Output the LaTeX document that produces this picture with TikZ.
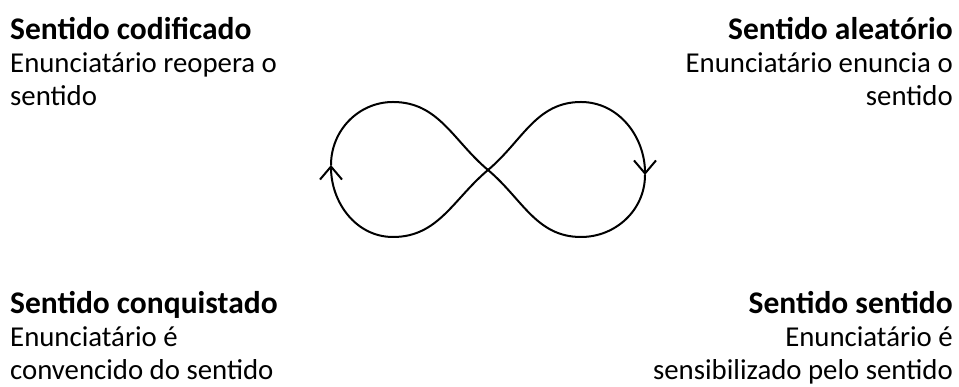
\documentclass[tikz,border=0pt]{standalone}
\usepackage{fontspec}
\setmainfont{Carlito}
\usetikzlibrary{arrows.meta,positioning}
\newcommand{\sentttl}[1]{{\fontsize{31.5}{33}\selectfont\bfseries #1}}
\tikzset{>={Straight Barb[length=13pt,width=22pt]},
  sentbox/.style={inner sep=0pt,font=\fontsize{28.8}{33}\selectfont},
  sentl/.style={sentbox,align=left,anchor=base west},
  sentr/.style={sentbox,align=right,anchor=base east},
  eight/.style={line width=2pt,black,line cap=round}}
\begin{document}
\begin{tikzpicture}[x=1pt,y=1pt]
  \useasboundingbox (0,0) rectangle (959,387);
  % four kinds of sense (anchored on their last line)
  \node[sentl] (codif) at (10,281) {\sentttl{Sentido codificado}\\Enunciatário reopera o\\sentido};
  \node[sentr] (aleat) at (953,281) {\sentttl{Sentido aleatório}\\Enunciatário enuncia o\\sentido};
  \node[sentl] (conq) at (10,7) {\sentttl{Sentido conquistado}\\Enunciatário é\\convencido do sentido};
  \node[sentr] (sent) at (953,7) {\sentttl{Sentido sentido}\\Enunciatário é\\sensibilizado pelo sentido};
  % the figure eight
  \coordinate (c) at (488,217);
  \coordinate (l) at (331,222);
  \coordinate (lt) at (393,285);
  \coordinate (lb) at (393,150);
  \coordinate (r) at (645,212);
  \coordinate (rt) at (581,285);
  \coordinate (rb) at (581,150);
  \draw[eight,->] (c) to[out=220,in=0] (lb) to[out=180,in=-90] (l);
  \draw[eight] (l) to[out=90,in=180] (lt) to[out=0,in=140] (c);
  \draw[eight,->] (c) to[out=40,in=180] (rt) to[out=0,in=90] (r);
  \draw[eight] (r) to[out=-90,in=0] (rb) to[out=180,in=-40] (c);
\end{tikzpicture}
\end{document}
